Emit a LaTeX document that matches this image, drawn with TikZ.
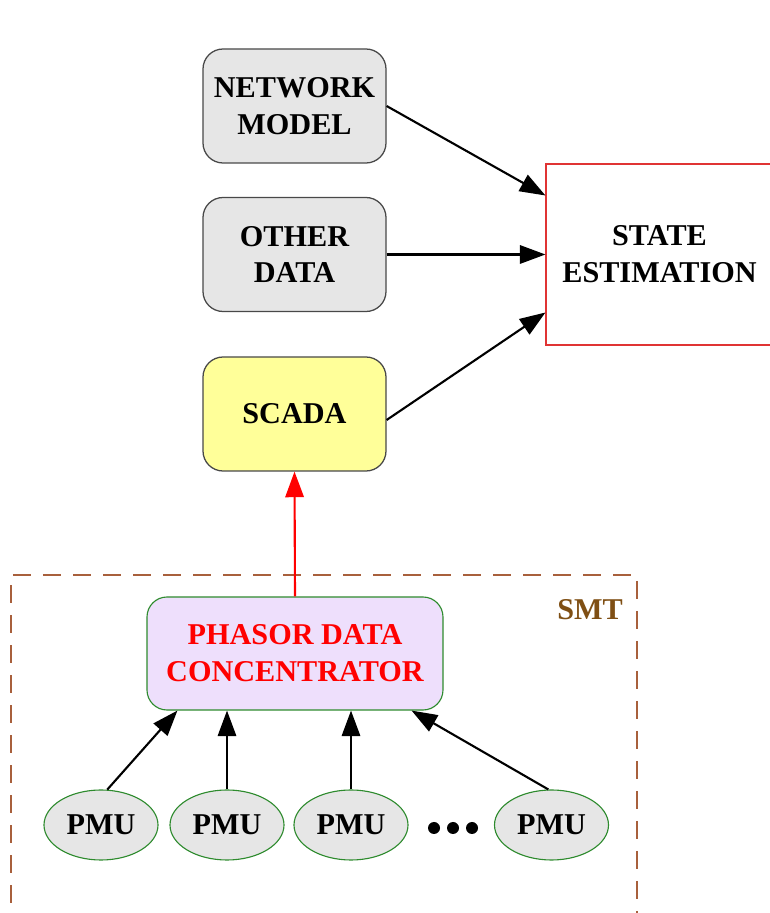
\documentclass[tikz,border=0pt]{standalone}
\usepackage{fontspec}
\setmainfont{Liberation Serif}
\usetikzlibrary{arrows.meta,shapes.geometric}

\definecolor{boxgray}{HTML}{E6E6E6}
\definecolor{boxedge}{HTML}{484848}
\definecolor{scadayellow}{HTML}{FFFF99}
\definecolor{pdcviolet}{HTML}{EEDFFC}
\definecolor{leafgreen}{HTML}{2E8B2E}
\definecolor{smtbrown}{HTML}{7F4F14}
\definecolor{smtdash}{HTML}{A8603C}
\definecolor{seborder}{HTML}{E03434}

\tikzset{
  txt/.style={font=\bfseries\fontsize{21.5}{26.2}\selectfont, align=center, inner sep=0pt},
  datbox/.style={txt, draw=boxedge, line width=0.9pt, fill=boxgray, rounded corners=0.5cm,
    minimum width=4.575cm, minimum height=2.85cm},
  pmunode/.style={txt, ellipse, draw=leafgreen, line width=0.8pt, fill=boxgray,
    minimum width=2.85cm, minimum height=1.75cm},
  feed/.style={-{Triangle[length=0.64cm,width=0.46cm]}, line width=1.5pt},
}

\begin{document}
\begin{tikzpicture}

\useasboundingbox (0,0) rectangle (19.25,22.825);
\clip (0,0) rectangle (19.25,22.825);

% Inputs to the estimator
\node[datbox] (netmodel) at (7.3625,20.175) {NETWORK\\MODEL};
\node[datbox] (otherdata) at (7.3625,16.4625) {OTHER\\DATA};
\node[datbox, fill=scadayellow] (scada) at (7.3625,12.475) {SCADA};

% State estimation
\node[txt, draw=seborder, line width=0.8pt, fill=white,
  minimum width=5.675cm, minimum height=4.525cm] (state) at (16.4875,16.4625) {STATE\\ESTIMATION};

% SMT area
\draw[smtdash, line width=0.8pt, dash pattern=on 0.45cm off 0.3cm] (0.275,-0.5) -- (0.275,8.45) -- (15.925,8.45) -- (15.925,-0.5);
\node[txt, text=smtbrown] (smt) at (14.75,7.575) {SMT};

% Concentrator and PMUs
\node[txt, draw=leafgreen, line width=0.8pt, fill=pdcviolet, rounded corners=0.5cm, text=red,
  minimum width=7.4cm, minimum height=2.825cm] (pdc) at (7.375,6.4875) {PHASOR DATA\\CONCENTRATOR};

\node[pmunode] (pmu1) at (2.525,2.2) {PMU};
\node[pmunode] (pmu2) at (5.675,2.2) {PMU};
\node[pmunode] (pmu3) at (8.775,2.2) {PMU};
\node[pmunode] (pmu4) at (13.7875,2.2) {PMU};

% Dots
\foreach \i in {-1,0,1}
  \fill (11.325+\i*0.475,2.125) circle (0.15);

% Connectors
\draw[feed] (netmodel.east) -- ([yshift=1.475cm]state.west);
\draw[feed] (otherdata.east) -- (state.west);
\draw[feed] ([yshift=-0.15cm]scada.east) -- ([yshift=-1.45cm]state.west);
\draw[feed, red] (pdc.north) -- (scada.south);

\draw[feed] (pmu1.80) -- ([xshift=0.775cm]pdc.south west);
\draw[feed] (pmu2.north) -- (pmu2.north |- pdc.south);
\draw[feed] (pmu3.north) -- (pmu3.north |- pdc.south);
\draw[feed] (pmu4.95) -- ([xshift=-0.8cm]pdc.south east);

\end{tikzpicture}
\end{document}
